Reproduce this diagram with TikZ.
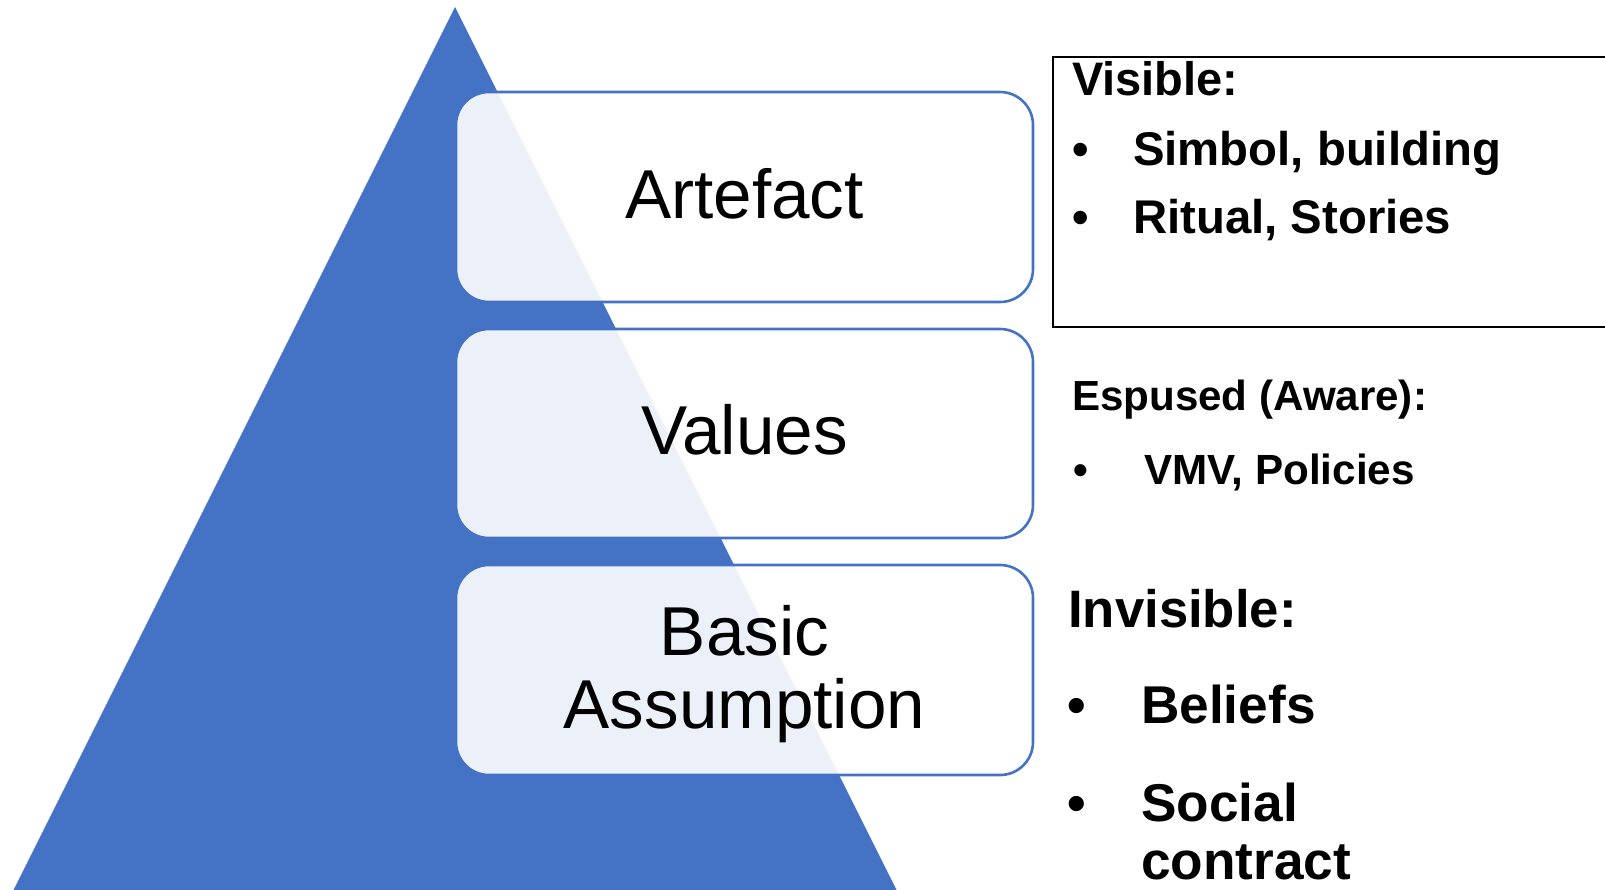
\documentclass[tikz,border=0pt]{standalone}
\usepackage{fontspec}
\setmainfont{Liberation Sans}
\usetikzlibrary{calc}
\definecolor{pyramidblue}{HTML}{4472C4}
\begin{document}
\begin{tikzpicture}[x=1pt,y=-1pt,
  layerbox/.style={draw=pyramidblue, line width=2.6pt, rounded corners=33pt,
    fill=white, fill opacity=0.9, minimum width=577pt, inner sep=0pt, outer sep=0pt},
  layerlabel/.style={font=\fontsize{69.2}{72}\selectfont, anchor=base, inner sep=0pt},
  head/.style={anchor=base west, inner sep=0pt, font=\bfseries\fontsize{#1}{#1}\selectfont},
  item/.style={anchor=base west, inner sep=0pt, font=\bfseries\fontsize{#1}{#1}\selectfont},
  dotmark/.style={anchor=base west, inner sep=0pt, font=\bfseries\fontsize{#1}{#1}\selectfont}
]
\useasboundingbox (0,0) rectangle (1605,889);
\clip (0,0) rectangle (1605,889);

% the pyramid
\fill[pyramidblue] (455,7) -- (902,901) -- (8,901) -- cycle;

% the three layers
\node[layerbox, minimum height=210pt] (artefact) at (744.5,197) {};
\node[layerbox, minimum height=209pt] (values) at (744.5,433.5) {};
\node[layerbox, minimum height=210pt] (basic) at (744.5,670) {};

\node[layerlabel] (artefactlabel) at ($(artefact.center)+(0,21)$) {Artefact};
\node[layerlabel] (valueslabel) at ($(values.center)+(0,21)$) {Values};
\node[layerlabel] (basiclabel1) at ($(basic.center)+(0,-15)$) {Basic};
\node[layerlabel] (basiclabel2) at ($(basic.center)+(0,58)$) {Assumption};

% visible level
\node[draw=black, line width=2pt, minimum width=567pt, minimum height=270pt,
      inner sep=0pt] (visiblebox) at (1336.5,192) {};
\node[head=47] (visible) at (1072,95) {Visible:};
\node[dotmark=47] (vb1) at (1072,165) {•};
\node[item=47.3] (simbol) at (1133,165) {Simbol, building};
\node[dotmark=47] (vb2) at (1072,233) {•};
\node[item=47.3] (ritual) at (1133,233) {Ritual, Stories};

% espoused level
\node[head=42.1] (espused) at (1072,410) {Espused (Aware):};
\node[dotmark=42] (eb1) at (1073,484) {•};
\node[item=42.2] (vmv) at (1144,484) {VMV, Policies};

% invisible level
\node[head=52.7] (invisible) at (1068,627) {Invisible:};
\node[dotmark=53] (ib1) at (1067,723) {•};
\node[item=53.2] (beliefs) at (1141,723) {Beliefs};
\node[dotmark=53] (ib2) at (1067,821) {•};
\node[item=53.2] (social) at (1141,821) {Social};
\node[item=53.2] (contract) at (1141,879) {contract};
\end{tikzpicture}
\end{document}
